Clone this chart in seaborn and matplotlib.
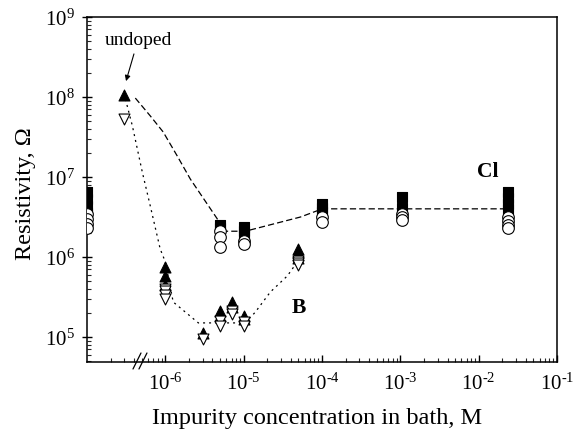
import matplotlib
matplotlib.use("Agg")
import matplotlib.pyplot as plt
import seaborn as sns
import numpy as np
from matplotlib.ticker import FixedLocator, LogLocator, FuncFormatter, NullFormatter

# ---------------- data ----------------
# B-doped samples: filled up-triangles (upper values) and open down-triangles (lower values)
b_filled_x = [3e-7, 1e-6, 1e-6, 1e-6, 3e-6, 5e-6, 5e-6, 7.1e-6, 7.1e-6, 1e-5, 1e-5,
              5e-5, 5e-5, 5e-5, 5e-5]
b_filled_y = [1.06e8, 7.5e5, 5.8e5, 4.47e5, 1.12e5, 2.1e5, 1.83e5, 2.74e5, 2.37e5, 1.83e5, 1.68e5,
              1.26e6, 1.15e6, 1.06e6, 9.7e5]
b_open_x = [3e-7, 1e-6, 1e-6, 1e-6, 1e-6, 3e-6, 5e-6, 5e-6, 7.1e-6, 7.1e-6, 1e-5, 1e-5,
            5e-5, 5e-5, 5e-5]
b_open_y = [5.3e7, 4.0e5, 3.76e5, 3.35e5, 3.0e5, 9.4e4, 1.58e5, 1.37e5, 2.1e5, 1.94e5, 1.55e5, 1.37e5,
            8.9e5, 8.3e5, 7.9e5]

# Cl-doped samples: filled squares and open circles
cl_filled_x = [1e-7, 1e-7, 1e-7, 1e-7, 5e-6, 5e-6, 1.02e-5, 1.02e-5, 1.02e-5,
               1e-4, 1e-4, 1e-4, 1.05e-3, 1.05e-3, 2.4e-2, 2.4e-2, 2.4e-2, 2.4e-2]
cl_filled_y = [6.5e6, 5.3e6, 4.3e6, 3.5e6, 2.5e6, 2.3e6, 2.37e6, 2.1e6, 1.88e6,
               4.6e6, 4.1e6, 3.65e6, 5.6e6, 4.1e6, 6.5e6, 5.5e6, 4.6e6, 4.0e6]
cl_open_x = [1e-7, 1e-7, 1e-7, 1e-7, 5e-6, 5e-6, 5e-6, 1.02e-5, 1.02e-5,
             1e-4, 1e-4, 1.05e-3, 1.05e-3, 1.05e-3, 2.4e-2, 2.4e-2, 2.4e-2, 2.4e-2]
cl_open_y = [3.4e6, 3.0e6, 2.6e6, 2.3e6, 2.1e6, 1.78e6, 1.33e6, 1.58e6, 1.45e6,
             3.16e6, 2.74e6, 3.45e6, 3.16e6, 2.9e6, 3.16e6, 2.8e6, 2.5e6, 2.3e6]

# guide lines
cl_line_x = [4.14e-7, 6.43e-7, 9.4e-7, 1.42e-6, 2.09e-6, 4.6e-6, 5.3e-6, 1.05e-5,
             5.3e-5, 1.01e-4, 2.4e-2]
cl_line_y = [9.7e7, 5.8e7, 3.65e7, 1.83e7, 9.4e6, 3.0e6, 2.1e6, 2.1e6,
             3.16e6, 4.0e6, 4.0e6]
b_line_x = [3.1e-7, 3.8e-7, 5.08e-7, 6.43e-7, 8.6e-7, 1.0e-6, 1.26e-6, 2.64e-6,
            1.05e-5, 1.41e-5, 2.19e-5, 3.61e-5, 4.85e-5]
b_line_y = [9.4e7, 4.34e7, 1.155e7, 4.34e6, 1.26e6, 8.7e5, 2.74e5, 1.5e5,
            1.5e5, 2.05e5, 3.65e5, 5.8e5, 8.7e5]

x_major_ticks = [1e-6, 1e-5, 1e-4, 1e-3, 1e-2, 1e-1]
y_major_ticks = [1e5, 1e6, 1e7, 1e8, 1e9]

# ---------------- style ----------------
sns.set_theme(style="ticks")
plt.rcParams['font.family'] = ['Liberation Serif', 'DejaVu Serif']
plt.rcParams['mathtext.fontset'] = 'custom'
plt.rcParams['mathtext.rm'] = 'Liberation Serif'
plt.rcParams['mathtext.it'] = 'Liberation Serif:italic'
plt.rcParams['mathtext.bf'] = 'Liberation Serif:bold'

fig = plt.figure(figsize=(5.73, 4.31), dpi=100)
ax = fig.add_axes([0.1518, 0.1578, 0.8203, 0.8004])
ax.set_xscale('log')
ax.set_yscale('log')

# lines
sns.lineplot(x=cl_line_x, y=cl_line_y, ax=ax, sort=False, estimator=None,
             color='black', linewidth=0.9, zorder=1)
ax.lines[-1].set_dashes((5, 2.5))
sns.lineplot(x=b_line_x, y=b_line_y, ax=ax, sort=False, estimator=None,
             color='black', linewidth=0.9, zorder=1)
ax.lines[-1].set_dashes((1.6, 3.2))

# markers
sns.scatterplot(x=cl_filled_x, y=cl_filled_y, ax=ax, marker='s', color='black',
                edgecolor='black', s=52, linewidth=0.8, zorder=3)
sns.scatterplot(x=cl_open_x, y=cl_open_y, ax=ax, marker='o', color='white',
                edgecolor='black', s=70, linewidth=0.8, zorder=4)
sns.scatterplot(x=b_filled_x, y=b_filled_y, ax=ax, marker='^', color='black',
                edgecolor='black', s=62, linewidth=0.8, zorder=3)
sns.scatterplot(x=b_open_x, y=b_open_y, ax=ax, marker='v', color='white',
                edgecolor='black', s=62, linewidth=0.8, zorder=4)

ax.set_xlim(1e-7, 1e-1)
ax.set_ylim(4.87e4, 1e9)


def pow10(v, pos):
    e = int(round(np.log10(v)))
    if e < 0:
        return r'$\mathregular{10^{\text{-}%d}}$' % (-e)
    return r'$\mathregular{10^{%d}}$' % e


ax.xaxis.set_major_locator(FixedLocator(x_major_ticks))
ax.xaxis.set_major_formatter(FuncFormatter(pow10))
ax.xaxis.set_minor_locator(LogLocator(base=10, subs=range(2, 10), numticks=20))
ax.xaxis.set_minor_formatter(NullFormatter())
ax.yaxis.set_major_locator(FixedLocator(y_major_ticks))
ax.yaxis.set_major_formatter(FuncFormatter(pow10))
ax.yaxis.set_minor_locator(LogLocator(base=10, subs=range(2, 10), numticks=20))
ax.yaxis.set_minor_formatter(NullFormatter())

ax.tick_params(axis='x', which='major', direction='in', length=5, width=1, pad=8,
               labelsize=15, colors='black', top=False)
ax.tick_params(axis='x', which='minor', direction='in', length=3, width=0.8, top=False)
ax.tick_params(axis='y', which='major', direction='inout', length=7, width=1, pad=5,
               labelsize=15, colors='black', right=False)
ax.tick_params(axis='y', which='minor', direction='in', length=3, width=0.8, right=False)

for sp in ax.spines.values():
    sp.set_visible(True)
    sp.set_color('black')
    sp.set_linewidth(1.1)

ax.set_xlabel('Impurity concentration in bath, M', fontsize=17.5, color='black')
ax.set_ylabel('Resistivity, Ω', fontsize=17.5, color='black')
ax.yaxis.set_label_coords(-0.108, 0.49)
ax.xaxis.set_label_coords(0.49, -0.13)

# annotations
ax.annotate('undoped', xy=(3.15e-7, 1.58e8), xytext=(4.5e-7, 4.6e8),
            ha='center', va='baseline', fontsize=14, color='black',
            arrowprops=dict(arrowstyle='-|>', color='black', lw=0.8,
                            mutation_scale=8, shrinkA=2, shrinkB=0))
ax.text(5.0e-5, 2.37e5, 'B', ha='center', va='center', fontsize=15.5,
        fontweight='bold', color='black')
ax.text(1.29e-2, 1.2e7, 'Cl', ha='center', va='center', fontsize=15.5,
        fontweight='bold', color='black')

# axis break mark
for x0 in (0.0979, 0.1106):
    ax.plot([x0, x0 + 0.017], [-0.0203, 0.0261], transform=ax.transAxes,
            color='black', lw=0.9, clip_on=False, zorder=5)

fig.savefig('out.png', dpi=100)
